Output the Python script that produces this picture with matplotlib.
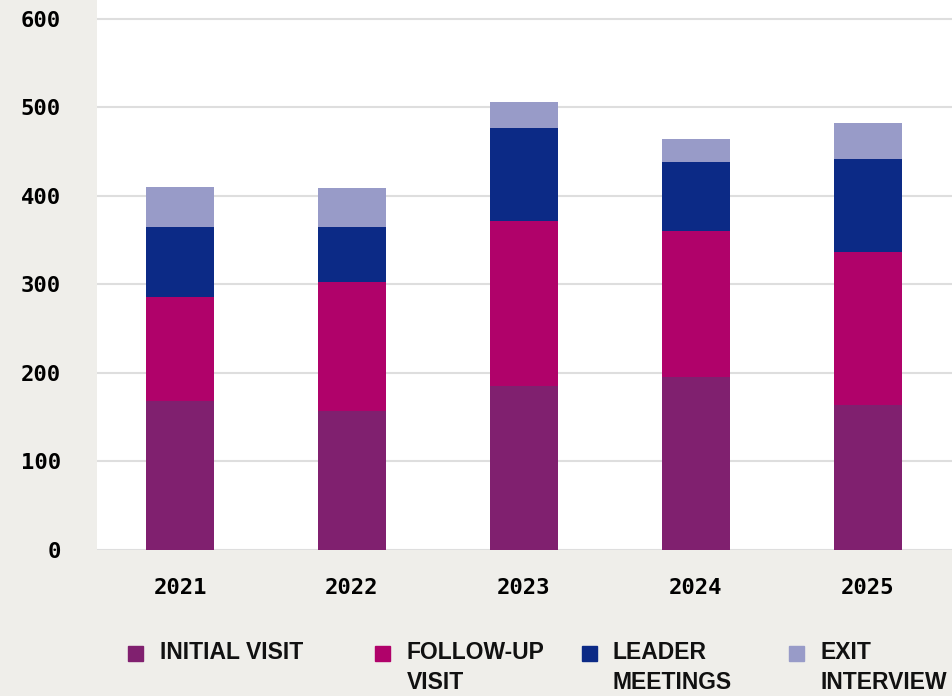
import matplotlib.pyplot as plt
import numpy as np
from matplotlib.patches import Rectangle

years = ['2021', '2022', '2023', '2024', '2025']
initial_visit = [168, 157, 185, 195, 164]
follow_up_visit = [118, 146, 186, 165, 172]
leader_meetings = [79, 62, 106, 78, 106]
exit_interview = [45, 44, 29, 26, 40]

series_names = ['INITIAL VISIT', 'FOLLOW-UP\nVISIT', 'LEADER\nMEETINGS', 'EXIT\nINTERVIEW']
series_colors = ['#80206f', '#b0026a', '#0c2a86', '#989bc8']

bg = '#efeeea'
mono = 'DejaVu Sans Mono'

fig = plt.figure(figsize=(9.52, 6.96), dpi=100, facecolor=bg)
ax = fig.add_axes([97 / 952, 1 - 550 / 696, 1 - 97 / 952, 550 / 696])
ax.set_facecolor('white')

x = np.arange(len(years))
bottom = np.zeros(len(years))
for vals, color in zip([initial_visit, follow_up_visit, leader_meetings, exit_interview], series_colors):
    ax.bar(x, vals, width=0.395, bottom=bottom, color=color, zorder=3)
    bottom += np.array(vals)

ax.set_xlim(-0.483, 4.49)
ax.set_ylim(0, 621)
ax.set_yticks(range(0, 601, 100))
ax.set_xticks(x)
ax.set_xticklabels(years)
ax.grid(axis='y', color='#dedede', linewidth=1.5, zorder=0)
for s in ax.spines.values():
    s.set_visible(False)
ax.tick_params(length=0)
ax.tick_params(axis='y', pad=26)
ax.tick_params(axis='x', pad=20)
for lab in ax.get_xticklabels() + ax.get_yticklabels():
    lab.set_fontfamily(mono)
    lab.set_fontweight('bold')
    lab.set_fontsize(16)

# legend drawn by hand so multi-line labels align to the first line
handle_x = [128, 375, 582, 789]
text_x = [160, 407, 613, 820]
for hx, tx, name, color in zip(handle_x, text_x, series_names, series_colors):
    fig.patches.append(Rectangle((hx / 952, 1 - 661 / 696), 15 / 952, 15 / 696,
                                 transform=fig.transFigure, color=color))
    fig.text(tx / 952, 1 - 641 / 696, name, ha='left', va='top', fontsize=16.5,
             fontweight='bold', family='Liberation Sans', linespacing=1.4, color='#111111')

plt.savefig('out.png', dpi=100, facecolor=bg)
